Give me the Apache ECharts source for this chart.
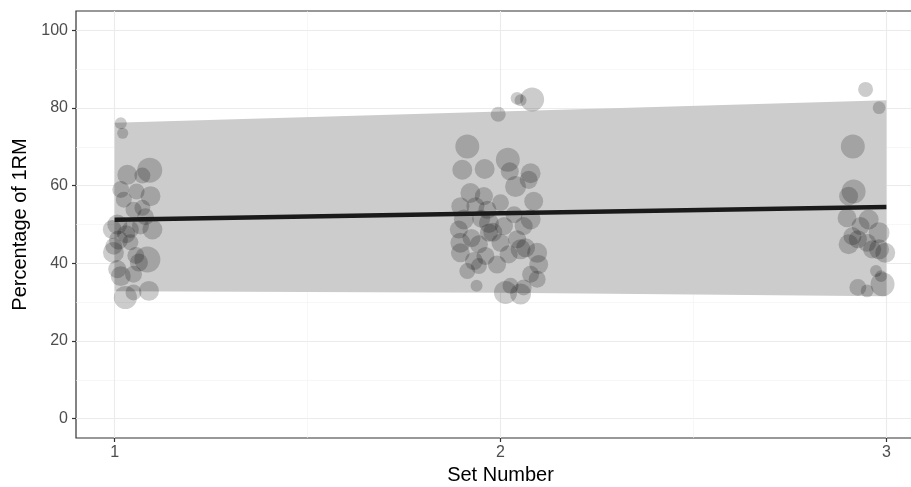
<!DOCTYPE html>
<html>
<head>
<meta charset="utf-8">
<script src="https://cdn.jsdelivr.net/npm/echarts@6/dist/echarts.min.js"></script>
<style>
  html, body { margin: 0; padding: 0; background: #fff; }
  #chart { width: 911px; height: 487px; }
</style>
</head>
<body>
<div id="chart"></div>
<script>
// jittered observations: set number (with jitter), % of 1RM, load (mapped to point size)
const set1X = [1.016, 1.021, 1.033, 1.091, 1.072, 1.016, 1.093, 1.057, 1.024, 1.072, 1.049, 1.007, 0.994, 1.067, 1.098, 1.041, 0.998, 1.041, 0.997, 1.085, 1.063, 1.007, 1.049, 1.016, 1.089, 1.028, 1.049, 1.030, 1.080, 1.010, 1.055];
const set1Y = [76.1, 73.5, 62.8, 64.0, 62.6, 59.0, 57.3, 58.5, 56.4, 54.3, 53.8, 50.0, 48.7, 49.6, 48.7, 48.7, 44.4, 45.4, 42.8, 41.0, 40.2, 38.5, 37.2, 36.7, 32.9, 31.2, 32.5, 47.5, 52.0, 46.0, 42.0];
const set1Load = [14, 12, 39, 61, 25, 28, 39, 25, 25, 25, 25, 39, 35, 28, 39, 28, 28, 25, 43, 66, 32, 32, 28, 39, 39, 52, 25, 32, 28, 35, 28];

const set2X = [2.082, 2.043, 2.052, 1.994, 1.914, 2.019, 1.901, 1.959, 2.024, 2.078, 2.039, 2.073, 1.922, 1.957, 1.896, 2.000, 2.086, 1.935, 1.966, 1.905, 1.970, 2.078, 2.060, 2.009, 1.892, 1.970, 1.896, 2.043, 1.944, 2.000, 2.052, 2.095, 1.896, 1.961, 2.021, 1.931, 1.991, 2.099, 1.914, 1.944, 2.078, 2.095, 2.026, 1.938, 2.013, 2.052, 2.060, 1.980, 1.950, 2.035, 1.925, 2.065];
const set2Y = [82.2, 82.5, 82.0, 78.4, 70.1, 66.7, 64.1, 64.3, 63.7, 63.2, 59.8, 61.5, 58.1, 57.3, 54.7, 55.6, 56.0, 54.7, 53.8, 51.3, 50.4, 51.3, 49.6, 49.6, 48.7, 47.9, 45.3, 46.2, 44.9, 45.3, 43.6, 42.7, 42.7, 41.9, 42.3, 40.6, 39.7, 39.7, 38.0, 39.3, 37.2, 35.9, 34.2, 34.2, 32.5, 32.1, 33.8, 48.0, 51.5, 52.5, 46.5, 44.0];
const set2Load = [56, 16, 14, 22, 56, 56, 39, 39, 32, 39, 43, 32, 39, 32, 32, 28, 35, 32, 32, 39, 39, 39, 32, 32, 32, 32, 39, 32, 32, 32, 39, 39, 35, 32, 32, 32, 32, 35, 25, 25, 28, 28, 25, 14, 52, 43, 25, 35, 32, 28, 32, 35];

const set3X = [2.946, 2.981, 2.913, 2.915, 2.902, 2.898, 2.954, 2.933, 2.981, 2.912, 2.902, 2.950, 2.926, 2.981, 2.997, 2.963, 2.973, 2.986, 2.990, 2.926, 2.950];
const set3Y = [84.8, 80.1, 70.1, 58.5, 57.3, 51.7, 51.3, 49.6, 47.9, 47.0, 44.9, 45.3, 46.2, 43.6, 42.7, 43.6, 38.0, 36.7, 34.6, 33.8, 32.9];
const set3Load = [22, 16, 56, 56, 35, 35, 39, 32, 43, 32, 39, 32, 32, 39, 39, 32, 14, 14, 56, 28, 16];

// fitted line and band
const fitX = [1, 2, 3];
const fitY = [51.2, 52.9, 54.5];
const bandLow = [32.8, 32.4, 31.5];
const bandHigh = [76.2, 79.1, 82.0];

// axis ticks
const xTicks = [1, 2, 3];
const xMinor = [1.5, 2.5];
const yTicks = [0, 20, 40, 60, 80, 100];
const yMinor = [10, 30, 50, 70, 90];

const points = [];
[[set1X, set1Y, set1Load], [set2X, set2Y, set2Load], [set3X, set3Y, set3Load]].forEach(function (s) {
  s[0].forEach(function (x, i) { points.push([x, s[1][i], s[2][i]]); });
});

const chart = echarts.init(document.getElementById('chart'));

const gridLines = [];
yTicks.forEach(v => gridLines.push({ yAxis: v, lineStyle: { color: '#ebebeb', width: 1.1, type: 'solid' } }));
yMinor.forEach(v => gridLines.push({ yAxis: v, lineStyle: { color: '#f2f2f2', width: 0.6, type: 'solid' } }));
xTicks.forEach(v => gridLines.push({ xAxis: v, lineStyle: { color: '#ebebeb', width: 1.1, type: 'solid' } }));
xMinor.forEach(v => gridLines.push({ xAxis: v, lineStyle: { color: '#f2f2f2', width: 0.6, type: 'solid' } }));

chart.setOption({
  animation: false,
  backgroundColor: '#fff',
  textStyle: { fontFamily: 'Liberation Sans, Arial, sans-serif' },
  grid: {
    left: 76, top: 11, right: -14, bottom: 49,
    outerBoundsMode: 'none',
    show: true, borderColor: '#333333', borderWidth: 1.2, backgroundColor: '#fff'
  },
  xAxis: {
    type: 'value', min: 0.9, max: 3.1,
    name: 'Set Number', nameLocation: 'middle', nameGap: 16,
    nameTextStyle: { fontSize: 20, color: '#000' },
    axisLine: { show: false, onZero: false },
    splitLine: { show: false },
    axisTick: { show: true, length: 4, customValues: xTicks, lineStyle: { color: '#333', width: 1.2 } },
    axisLabel: { customValues: xTicks, fontSize: 16, color: '#4d4d4d', margin: 7 }
  },
  yAxis: {
    type: 'value', min: -5, max: 105,
    name: 'Percentage of 1RM', nameLocation: 'middle', nameGap: 44, nameRotate: 90,
    nameTextStyle: { fontSize: 20, color: '#000' },
    axisLine: { show: false, onZero: false },
    splitLine: { show: false },
    axisTick: { show: true, length: 4, customValues: yTicks, lineStyle: { color: '#333', width: 1.2 } },
    axisLabel: { customValues: yTicks, fontSize: 16, color: '#4d4d4d', margin: 8 }
  },
  series: [
    {
      type: 'line', data: [], silent: true, z: 0,
      markLine: { silent: true, z: 0, symbol: 'none', label: { show: false }, data: gridLines }
    },
    {
      type: 'custom', z: 2, silent: true,
      data: fitX.map((x, i) => [x, bandLow[i], bandHigh[i]]),
      renderItem: function (params, api) {
        if (params.dataIndex !== 0) return;
        const pts = [];
        fitX.forEach((x, i) => pts.push(api.coord([x, bandHigh[i]])));
        for (let i = fitX.length - 1; i >= 0; i--) pts.push(api.coord([fitX[i], bandLow[i]]));
        return { type: 'polygon', shape: { points: pts }, style: { fill: '#cccccc' } };
      }
    },
    {
      type: 'scatter', z: 3,
      data: points,
      symbolSize: function (v) { return 3.2 * Math.sqrt(v[2]); },
      itemStyle: { color: 'rgba(0,0,0,0.25)' }
    },
    {
      type: 'line', z: 4,
      data: fitX.map((x, i) => [x, fitY[i]]),
      symbol: 'none',
      lineStyle: { color: '#1a1a1a', width: 4.5 }
    }
  ]
});
</script>
</body>
</html>
